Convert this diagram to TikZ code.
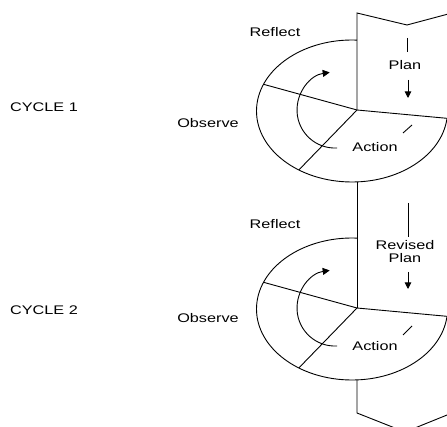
\documentclass[tikz,border=0pt]{standalone}
\usepackage{fontspec}
\setmainfont{Liberation Sans}
\usetikzlibrary{arrows.meta}
\begin{document}
\begin{tikzpicture}[x=1pt,y=1pt]
\tikzstyle{every node}+=[inner sep=0pt, xscale=1.3, font=\fontsize{12.5}{14}\selectfont]
\tikzstyle{cyc}=[black, line width=0.9pt]
\useasboundingbox (0,0) rectangle (447,-427);
\clip (0,0) rectangle (447,-427);
% cycle 1
\coordinate (c1) at (357,-110);
\coordinate (e1top) at (357,-40.1);
\coordinate (e1bot) at (357,-181.9);
\draw [cyc] (e1top) arc[start angle=87, end angle=354, x radius=95.5, y radius=71];
\draw [cyc] (407,-25) -- (357,-13) -- (c1);
\draw [cyc] (407,-25) -- (452,-13);
\draw [cyc] (c1) -- (450,-118.6);
\draw [cyc] (c1) -- (263.9,-84.4);
\draw [cyc] (c1) -- (298.9,-169.9);
\draw [cyc, -{Triangle[length=7pt,width=7pt]}] (337,-148) arc[start angle=273, end angle=98, radius=38];
\draw [cyc] (407,-38) -- (407,-52);
\draw [cyc, -{Triangle[length=6.5pt,width=6.5pt]}] (408,-80) -- (408,-98);
\draw [cyc] (403,-133) -- (412,-125);
\draw (275,-32) node (reflect1) {Reflect};
\draw (405,-65) node (plan1) {Plan};
\draw (375,-147) node (action1) {Action};
\draw (208,-123) node (observe1) {Observe};
\draw (44,-107) node (cycle1) {CYCLE 1};
% link
\coordinate (c2) at (357,-308);
\draw [cyc] (e1bot) -- (c2);
% cycle 2
\coordinate (e2top) at (357,-238.1);
\coordinate (e2bot) at (357,-379.9);
\draw [cyc] (e2top) arc[start angle=87, end angle=354, x radius=95.5, y radius=71];
\draw [cyc] (c2) -- (450,-316.6);
\draw [cyc] (c2) -- (263.9,-282.4);
\draw [cyc] (c2) -- (298.9,-367.9);
\draw [cyc, -{Triangle[length=7pt,width=7pt]}] (337,-346) arc[start angle=273, end angle=98, radius=38];
\draw [cyc] (408,-203) -- (408,-237);
\draw [cyc, -{Triangle[length=6.5pt,width=6.5pt]}] (408,-272) -- (408,-289);
\draw [cyc] (403,-335) -- (412,-326);
\draw [cyc] (e2bot) -- (357,-413) -- (405,-432) -- (452,-413);
\draw (275,-224) node (reflect2) {Reflect};
\draw (405,-252) node[align=center] (plan2) {Revised\\[-1pt]Plan};
\draw (375,-346) node (action2) {Action};
\draw (208,-318) node (observe2) {Observe};
\draw (44,-310) node (cycle2) {CYCLE 2};
\end{tikzpicture}
\end{document}
